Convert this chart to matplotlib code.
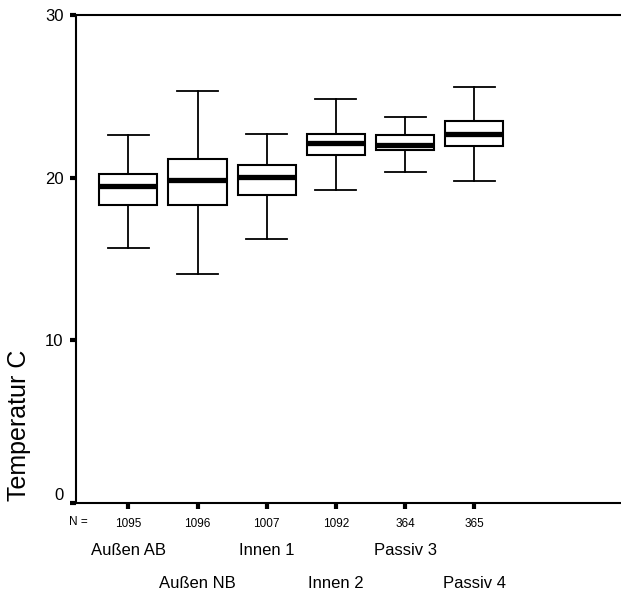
import matplotlib
matplotlib.use("Agg")
import matplotlib.pyplot as plt

plt.rcParams.update({
    "font.family": ["Liberation Sans", "DejaVu Sans"],
    "font.size": 12,
})

# group names and sample sizes
groups = ["Außen AB", "Außen NB", "Innen 1", "Innen 2", "Passiv 3", "Passiv 4"]
n_obs  = [1095, 1096, 1007, 1092, 364, 365]

# five-number summaries (deg C)
whisker_lo = [15.7, 14.1, 16.25, 19.25, 20.35, 19.8]
q1         = [18.35, 18.35, 18.95, 21.4, 21.7, 21.95]
median     = [19.5, 19.85, 20.05, 22.15, 22.0, 22.7]
q3         = [20.25, 21.15, 20.8, 22.7, 22.6, 23.5]
whisker_hi = [22.6, 25.3, 22.7, 24.85, 23.7, 25.6]

stats = []
for i in range(len(groups)):
    stats.append(dict(whislo=whisker_lo[i], q1=q1[i], med=median[i],
                      q3=q3[i], whishi=whisker_hi[i], fliers=[]))

fig = plt.figure(figsize=(6.21, 5.98), dpi=100)
ax = fig.add_axes([0.1224, 0.1589, 0.8776, 0.816])

pos = list(range(1, len(groups) + 1))
ax.bxp(stats, positions=pos, widths=0.84, capwidths=0.59,
       showfliers=False, patch_artist=True,
       boxprops=dict(facecolor="white", edgecolor="black", linewidth=1.5),
       medianprops=dict(color="black", linewidth=3.8, solid_capstyle="butt"),
       whiskerprops=dict(color="black", linewidth=1.3),
       capprops=dict(color="black", linewidth=1.3))

ax.set_xlim(0.244, 8.12)
ax.set_ylim(0, 30)
ax.set_yticks([0, 10, 20, 30])
ax.set_xticks(pos)
ax.set_xticklabels([str(n) for n in n_obs], fontsize=8.5)
ax.tick_params(axis="y", direction="out", length=4, width=3, pad=5, labelsize=12)
ax.tick_params(axis="x", direction="out", length=4, width=3, pad=7)
for side in ["left", "bottom", "top"]:
    ax.spines[side].set_linewidth(1.5)
ax.spines["right"].set_visible(False)
# the "0" label sits a bit above its tick in the original
ax.get_yticklabels()[0].set_va("bottom")

fig.text(0.127, 0.1276, "N =", fontsize=8.5, ha="center", va="center")

# staggered group labels under the N row
for i, name in enumerate(groups):
    yrow = -0.0977 if i % 2 == 0 else -0.1645
    ax.text(pos[i], yrow, name, transform=ax.get_xaxis_transform(),
            ha="center", va="center", fontsize=12)

fig.text(0.0306, 0.289, "Temperatur C", rotation=90, fontsize=18,
         ha="center", va="center")

fig.savefig("out.png", dpi=100)
